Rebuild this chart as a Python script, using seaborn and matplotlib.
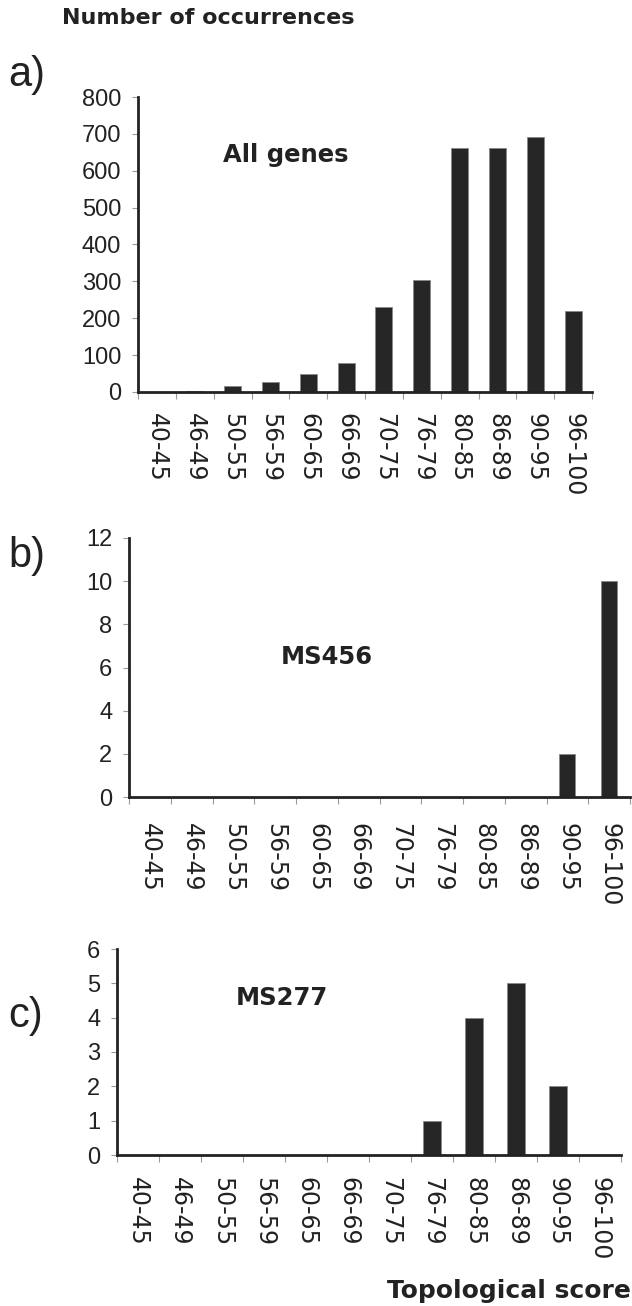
import matplotlib
matplotlib.use("Agg")
import matplotlib.pyplot as plt
import seaborn as sns
import pandas as pd
import numpy as np

categories = ["40-45", "46-49", "50-55", "56-59", "60-65", "66-69",
              "70-75", "76-79", "80-85", "86-89", "90-95", "96-100"]
all_genes = [1, 3, 15, 27, 50, 78, 230, 303, 663, 663, 691, 219]
ms456 = [0, 0, 0, 0, 0, 0, 0, 0, 0, 0, 2, 10]
ms277 = [0, 0, 0, 0, 0, 0, 0, 1, 4, 5, 2, 0]

panel_labels = ["a)", "b)", "c)"]
panel_names = ["All genes", "MS456", "MS277"]
y_ticks = [list(range(0, 801, 100)), list(range(0, 13, 2)), list(range(0, 7, 1))]

sns.set_theme(style="white")
plt.rcParams['font.family'] = ['DejaVu Sans']

W, H = 632, 1306
fig = plt.figure(figsize=(W / 100, H / 100), dpi=100)
fig.patch.set_facecolor("white")

def px_axes(left, right, top, bottom):
    return fig.add_axes([left / W, 1 - bottom / H, (right - left) / W, (bottom - top) / H])

boxes = [(138, 592, 97, 392), (129, 630, 538, 797), (117, 621, 949, 1155)]
series = [all_genes, ms456, ms277]
bar_widths = [0.45, 0.38, 0.42]
x_pads = [15, 19, 16]
label_pos = [(8, 75), (8, 556), (8, 1016)]
name_pos = [(286, 155), (327, 657), (282, 998)]
dark = "#262626"

for i, (box, vals) in enumerate(zip(boxes, series)):
    ax = px_axes(*box)
    df = pd.DataFrame({"cat": categories, "val": vals})
    sns.barplot(data=df, x="cat", y="val", ax=ax, color=dark, width=bar_widths[i],
                edgecolor="#888888", linewidth=0.6, saturation=1)
    ax.set_xlim(-0.5, len(categories) - 0.5)
    yt = y_ticks[i]
    ax.set_ylim(0, yt[-1])
    ax.set_yticks(yt)
    ax.set_yticklabels([str(v) for v in yt], family=["Liberation Sans"], fontsize=17, color="#222222")
    ax.set_xticks(range(len(categories)))
    ax.set_xticklabels(categories, rotation=-90, fontsize=17, color="#222222",
                       va="top", ha="center")
    ax.set_xticks(np.arange(-0.5, len(categories), 1.0), minor=True)
    ax.tick_params(axis="x", which="major", length=0, pad=x_pads[i])
    ax.tick_params(axis="x", which="minor", length=5, width=0.8, color="#999999", direction="out", bottom=True)
    ax.tick_params(axis="y", which="major", length=4, width=0.8, color="#999999", direction="out", left=True, pad=8)
    ax.set_xlabel("")
    ax.set_ylabel("")
    for s in ["top", "right"]:
        ax.spines[s].set_visible(False)
    for s in ["left", "bottom"]:
        ax.spines[s].set_color("#222222")
        ax.spines[s].set_linewidth(2)
    ax.set_facecolor("white")
    lx, ly = label_pos[i]
    fig.text(lx / W, 1 - ly / H, panel_labels[i], fontsize=30, family=["Liberation Sans"],
             color="#222222", ha="left", va="center")
    nx, ny = name_pos[i]
    fig.text(nx / W, 1 - ny / H, panel_names[i], fontsize=17.5, fontweight="bold",
             color="#222222", ha="center", va="center")

fig.text(62 / W, 1 - 18 / H, "Number of occurrences", fontsize=16, fontweight="bold",
         color="#222222", ha="left", va="center")
fig.text(631 / W, 1 - 1291 / H, "Topological score", fontsize=18, fontweight="bold",
         color="#222222", ha="right", va="center")

fig.savefig("out.png", dpi=100, facecolor="white")
